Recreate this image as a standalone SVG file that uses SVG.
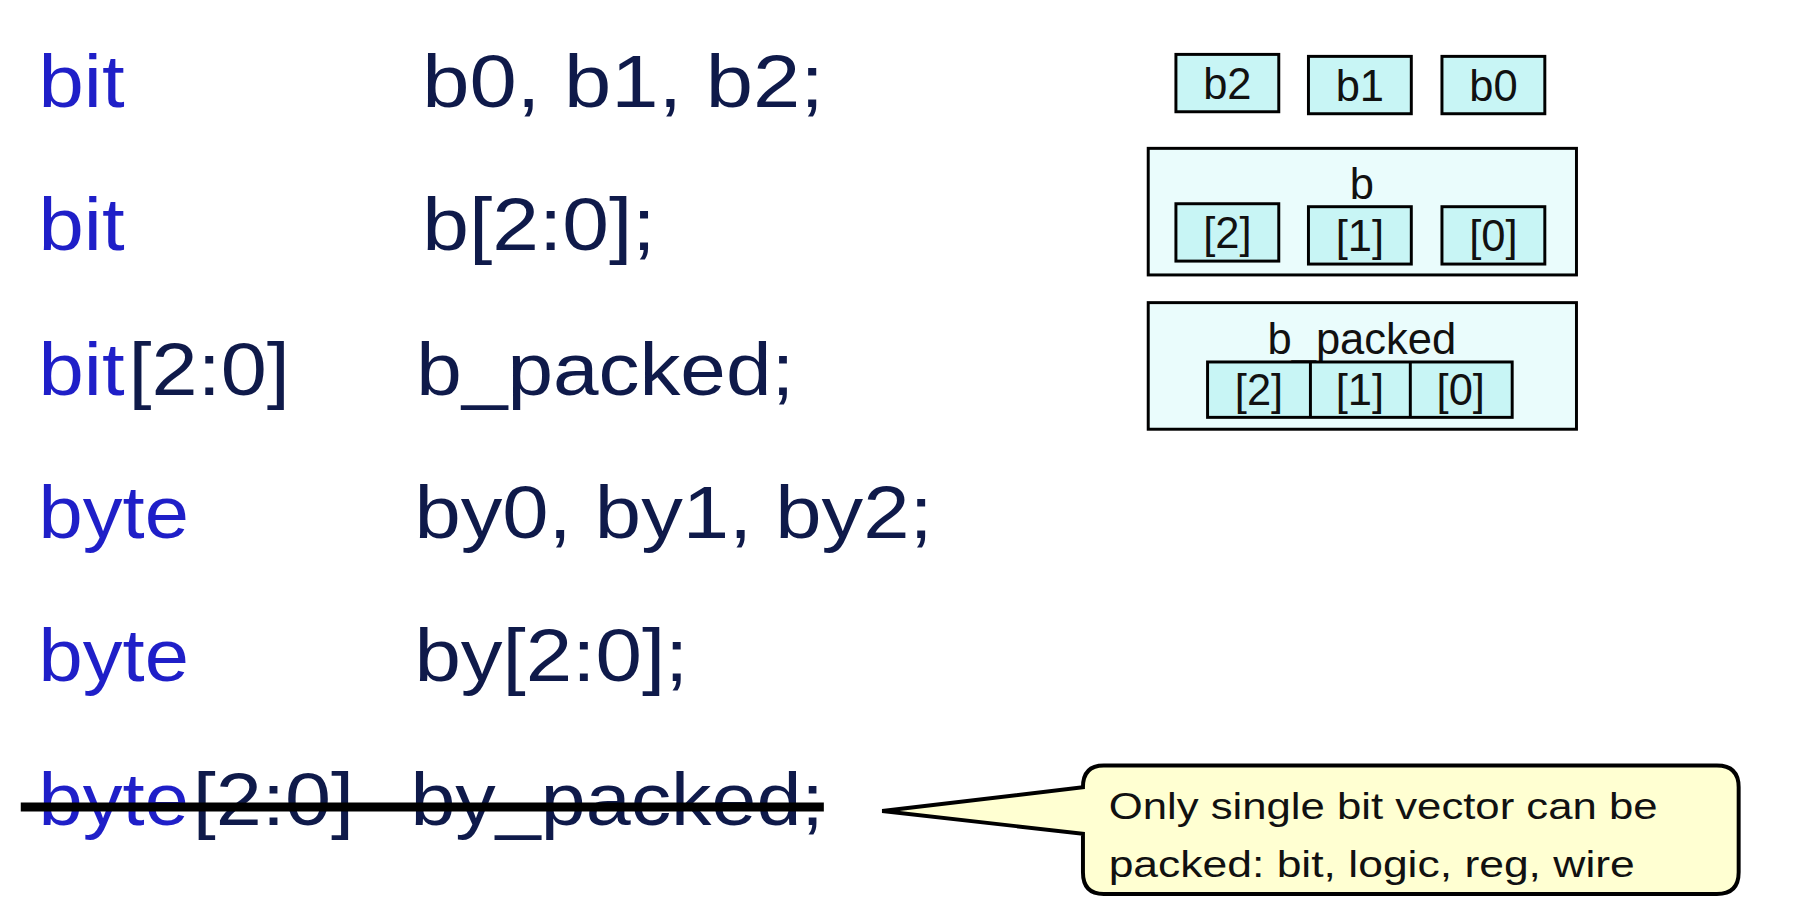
<svg xmlns="http://www.w3.org/2000/svg" width="1814" height="909" viewBox="0 0 1814 909">
<style>
.k{font-family:"Liberation Sans",Arial,sans-serif;font-size:74px;fill:#1f1fc8}
.n{font-family:"Liberation Sans",Arial,sans-serif;font-size:74px;fill:#0f1a4a}
.c{fill:#c8f5f5;stroke:#000;stroke-width:3}
.o{fill:#eafcfc;stroke:#000;stroke-width:3}
.t{font-family:"Liberation Sans",Arial,sans-serif;font-size:44px;fill:#111;text-anchor:middle}
.y{font-family:"Liberation Sans",Arial,sans-serif;font-size:38px;fill:#111}
</style>
<rect width="1814" height="909" fill="#fff"/>
<g transform="scale(0.989)">
<g id="code">
<text class="k" x="39" y="108" textLength="87" lengthAdjust="spacingAndGlyphs">bit</text>
<text class="n" x="427" y="108" textLength="406" lengthAdjust="spacingAndGlyphs">b0, b1, b2;</text>
<text class="k" x="39" y="253" textLength="87" lengthAdjust="spacingAndGlyphs">bit</text>
<text class="n" x="427" y="253" textLength="236" lengthAdjust="spacingAndGlyphs">b[2:0];</text>
<text class="k" x="39" y="399" textLength="87" lengthAdjust="spacingAndGlyphs">bit</text>
<text class="n" x="130" y="399" textLength="163" lengthAdjust="spacingAndGlyphs">[2:0]</text>
<text class="n" x="421" y="399" textLength="382" lengthAdjust="spacingAndGlyphs">b_packed;</text>
<text class="k" x="39" y="544" textLength="152" lengthAdjust="spacingAndGlyphs">byte</text>
<text class="n" x="419" y="544" textLength="524" lengthAdjust="spacingAndGlyphs">by0, by1, by2;</text>
<text class="k" x="39" y="689" textLength="152" lengthAdjust="spacingAndGlyphs">byte</text>
<text class="n" x="419" y="689" textLength="277" lengthAdjust="spacingAndGlyphs">by[2:0];</text>
<text class="k" x="39" y="834" textLength="152" lengthAdjust="spacingAndGlyphs">byte</text>
<text class="n" x="195" y="834" textLength="163" lengthAdjust="spacingAndGlyphs">[2:0]</text>
<text class="n" x="415" y="834" textLength="418" lengthAdjust="spacingAndGlyphs">by_packed;</text>
<line x1="21" y1="816" x2="833" y2="816" stroke="#000" stroke-width="9"/>
</g>
<g id="scalars">
<rect class="c" x="1189" y="55" width="104" height="58"/><text class="t" x="1241" y="100">b2</text>
<rect class="c" x="1323" y="57" width="104" height="58"/><text class="t" x="1375" y="102">b1</text>
<rect class="c" x="1458" y="57" width="104" height="58"/><text class="t" x="1510" y="102">b0</text>
</g>
<g id="unpacked">
<rect class="o" x="1161" y="150" width="433" height="128"/>
<text class="t" x="1377" y="201">b</text>
<rect class="c" x="1189" y="206" width="104" height="58"/><text class="t" x="1241" y="251">[2]</text>
<rect class="c" x="1323" y="209" width="104" height="58"/><text class="t" x="1375" y="254">[1]</text>
<rect class="c" x="1458" y="209" width="104" height="58"/><text class="t" x="1510" y="254">[0]</text>
</g>
<g id="packed">
<rect class="o" x="1161" y="306" width="433" height="128"/>
<text class="t" x="1377" y="358">b_packed</text>
<rect class="c" x="1221" y="366" width="308" height="56"/>
<line x1="1325" y1="366" x2="1325" y2="422" stroke="#000" stroke-width="3"/>
<line x1="1426" y1="366" x2="1426" y2="422" stroke="#000" stroke-width="3"/>
<text class="t" x="1273" y="410">[2]</text><text class="t" x="1375" y="410">[1]</text><text class="t" x="1477" y="410">[0]</text>
</g>
<g id="callout">
<path d="M1116,774 H1736 Q1758,774 1758,796 V882 Q1758,904 1736,904 H1116 Q1095,904 1095,882 V843 L892,820 L1095,796 Q1095,774 1116,774 Z" fill="#ffffd2" stroke="#000" stroke-width="4"/>
<text class="y" x="1121" y="828" textLength="555" lengthAdjust="spacingAndGlyphs">Only single bit vector can be</text>
<text class="y" x="1121" y="887" textLength="532" lengthAdjust="spacingAndGlyphs">packed: bit, logic, reg, wire</text>
</g>
</g>
</svg>
